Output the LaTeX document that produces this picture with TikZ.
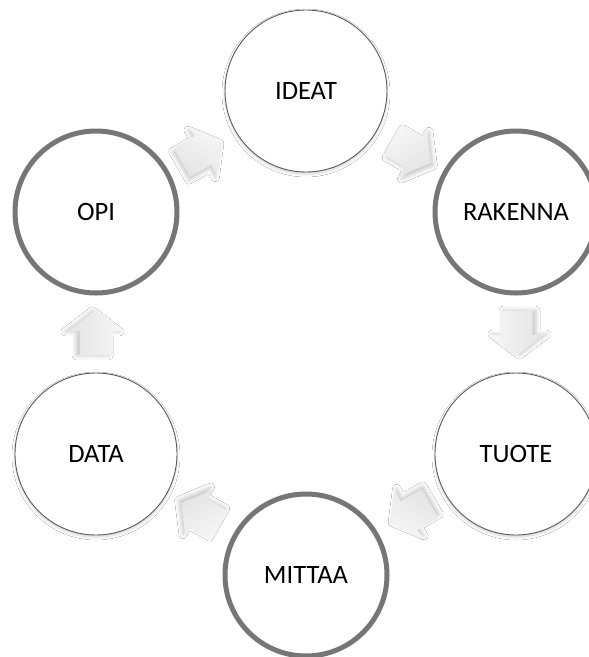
\documentclass[tikz,border=0pt]{standalone}
\usepackage{fontspec}
\setmainfont{Carlito}
\usetikzlibrary{calc,shadows.blur}

\definecolor{ringgray}{HTML}{767676}
\definecolor{thingray}{HTML}{5A5A5A}
\definecolor{arrowlight}{HTML}{F6F6F6}
\definecolor{arrowdark}{HTML}{E4E4E4}

\tikzset{
  stage/.style={circle, minimum size=162pt, inner sep=0pt, fill=white,
    font=\fontsize{26.5}{30}\selectfont},
  boldstage/.style={stage, draw=ringgray, line width=5pt},
  softstage/.style={stage, draw=thingray, line width=0.9pt,
    blur shadow={shadow xshift=0pt, shadow yshift=-2pt,
      shadow blur radius=3pt, shadow opacity=18}},
  arrowbody/.style={top color=arrowlight, bottom color=arrowdark},
}

% block arrow halfway between two stages, pointing along the given angle
\newcommand\cyclearrow[3]{%
  \pgfmathsetmacro\shx{0.8*cos(#3)-3.5*sin(#3)}%
  \pgfmathsetmacro\shy{-0.8*sin(#3)-3.5*cos(#3)}%
  \begin{scope}[shift={($(#1)!0.5!(#2)$)}, rotate=#3]
    \path[arrowbody, shading angle=-#3,
      blur shadow={shadow xshift=\shx pt, shadow yshift=\shy pt,
        shadow blur radius=4pt, shadow opacity=22}]
      (-22,-16.5) -- (2,-16.5) -- (2,-27.5) -- (23,0)
      -- (2,27.5) -- (2,16.5) -- (-22,16.5) -- cycle;
  \end{scope}}

\begin{document}
\begin{tikzpicture}[x=1pt, y=-1pt]
  \fill[white] (0,0) rectangle (589,657);
  \useasboundingbox (0,0) rectangle (589,657);

  \node[softstage] (ideat)   at (306,91)  {IDEAT};
  \node[boldstage] (rakenna) at (516,212) {RAKENNA};
  \node[softstage] (tuote)   at (516,454) {TUOTE};
  \node[boldstage] (mittaa)  at (306,575) {MITTAA};
  \node[softstage] (data)    at (96,454)  {DATA};
  \node[boldstage] (opi)     at (96,212)  {OPI};

  \cyclearrow{ideat}{rakenna}{-30}
  \cyclearrow{rakenna}{tuote}{-90}
  \cyclearrow{tuote}{mittaa}{-150}
  \cyclearrow{mittaa}{data}{150}
  \cyclearrow{data}{opi}{90}
  \cyclearrow{opi}{ideat}{30}
\end{tikzpicture}
\end{document}
